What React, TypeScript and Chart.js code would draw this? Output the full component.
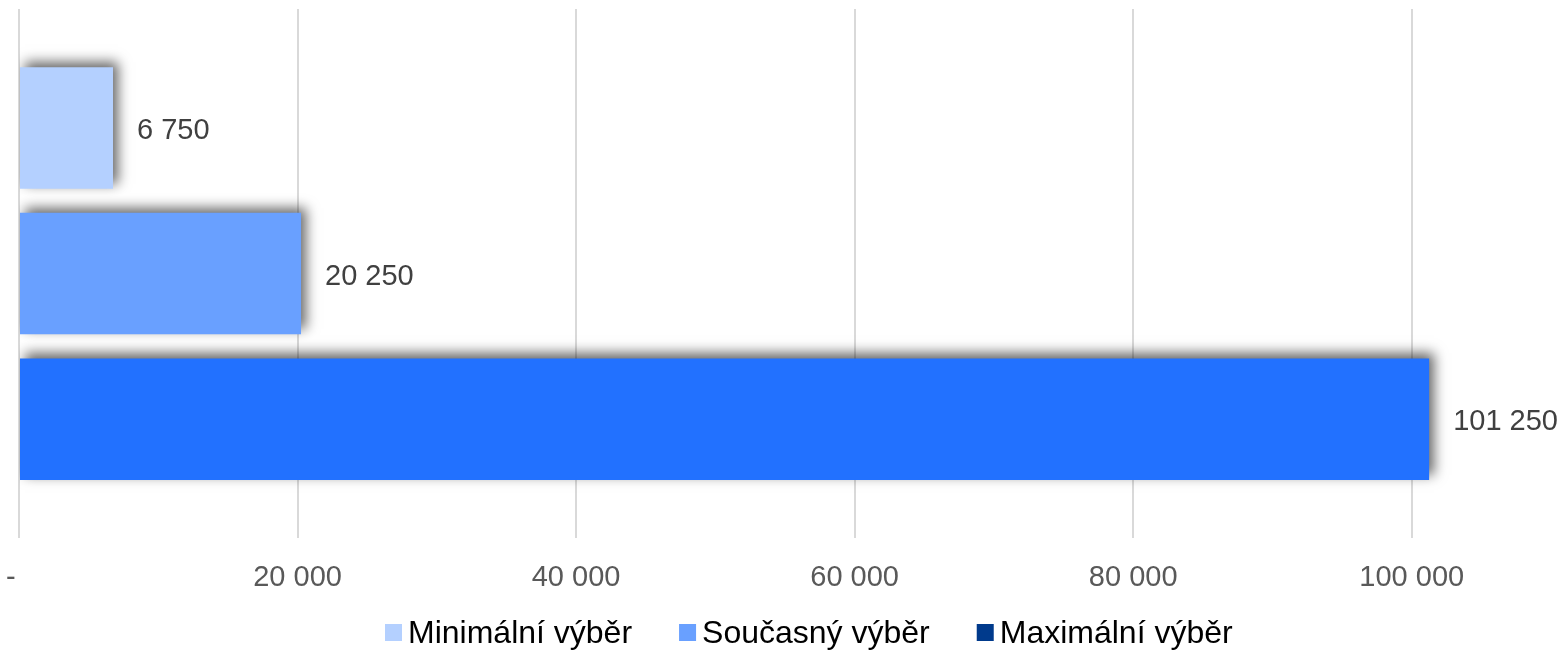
import React, { useEffect, useRef } from "react";
import { Chart, registerables } from "chart.js";

Chart.register(...registerables);

const categories = [""];
const seriesNames = ["Minimální výběr", "Současný výběr", "Maximální výběr"];
const seriesValues = [6750, 20250, 101250];
const barColors = ["#B4D0FF", "#69A0FF", "#2271FF"];
const legendColors = ["#B4D0FF", "#69A0FF", "#003A8C"];
const tickValues = [0, 20000, 40000, 60000, 80000, 100000];
const axisMax = 110000;

const FONT = '"Liberation Sans", Arial, sans-serif';

function fmt(v: number): string {
  return String(Math.round(v)).replace(/\B(?=(\d{3})+(?!\d))/g, " ");
}

const shadowPlugin = {
  id: "barShadow",
  beforeDatasetsDraw(chart: any) {
    const ctx = chart.ctx;
    ctx.save();
    ctx.shadowColor = "rgba(0,0,0,0.6)";
    ctx.shadowBlur = 12;
    ctx.shadowOffsetX = 5;
    ctx.shadowOffsetY = -5;
  },
  afterDatasetsDraw(chart: any) {
    const ctx = chart.ctx;
    ctx.restore();
    ctx.save();
    ctx.font = `29px ${FONT}`;
    ctx.fillStyle = "#404040";
    ctx.textAlign = "left";
    ctx.textBaseline = "middle";
    chart.data.datasets.forEach((ds: any, i: number) => {
      const meta = chart.getDatasetMeta(i);
      meta.data.forEach((bar: any, j: number) => {
        ctx.fillText(fmt(ds.data[j]), bar.x + 24, bar.y + 3);
      });
    });
    ctx.restore();
  },
};

const legendPlugin = {
  id: "customLegend",
  afterDraw(chart: any) {
    const ctx = chart.ctx;
    ctx.save();
    ctx.font = `32px ${FONT}`;
    ctx.textBaseline = "alphabetic";
    ctx.textAlign = "left";
    let x = 385;
    const boxY = 624;
    const box = 17;
    seriesNames.forEach((name, i) => {
      ctx.fillStyle = legendColors[i];
      ctx.fillRect(x, boxY, box, box);
      ctx.fillStyle = "#000000";
      const tx = x + box + 6;
      ctx.fillText(name, tx, 643);
      x = tx + ctx.measureText(name).width + 47;
    });
    ctx.restore();
  },
};

export default function App() {
  const ref = useRef<HTMLCanvasElement | null>(null);
  useEffect(() => {
    if (!ref.current) return;
    const chart = new Chart(ref.current, {
      type: "bar",
      data: {
        labels: categories,
        datasets: seriesNames.map((name, i) => ({
          label: name,
          data: [seriesValues[i]],
          backgroundColor: barColors[i],
          borderWidth: 0,
          categoryPercentage: 0.8254,
          barPercentage: 0.8345,
        })),
      },
      options: {
        indexAxis: "y",
        responsive: false,
        animation: false,
        devicePixelRatio: 1,
        layout: { padding: { left: 19, right: 14, top: 9, bottom: 34 } },
        plugins: {
          legend: { display: false },
          tooltip: { enabled: false },
        },
        scales: {
          y: { display: false },
          x: {
            min: 0,
            max: axisMax,
            afterBuildTicks: (scale: any) => {
              scale.ticks = tickValues.map((v) => ({ value: v }));
            },
            afterFit: (scale: any) => {
              scale.paddingLeft = 0;
              scale.paddingRight = 0;
            },
            grid: { color: "#D9D9D9", lineWidth: 2, drawTicks: false },
            border: { display: false },
            ticks: {
              padding: 22,
              color: "#595959",
              font: { size: 29, family: FONT },
              maxRotation: 0,
              autoSkip: false,
              callback: (v: any) => (Number(v) === 0 ? "-  " : fmt(Number(v))),
            },
          },
        },
      } as any,
      plugins: [shadowPlugin, legendPlugin],
    });
    return () => chart.destroy();
  }, []);
  return (
    <div style={{ position: "fixed", left: 0, top: 0, width: 1565, height: 651, background: "#fff" }}>
      <canvas ref={ref} width={1565} height={651} />
    </div>
  );
}
